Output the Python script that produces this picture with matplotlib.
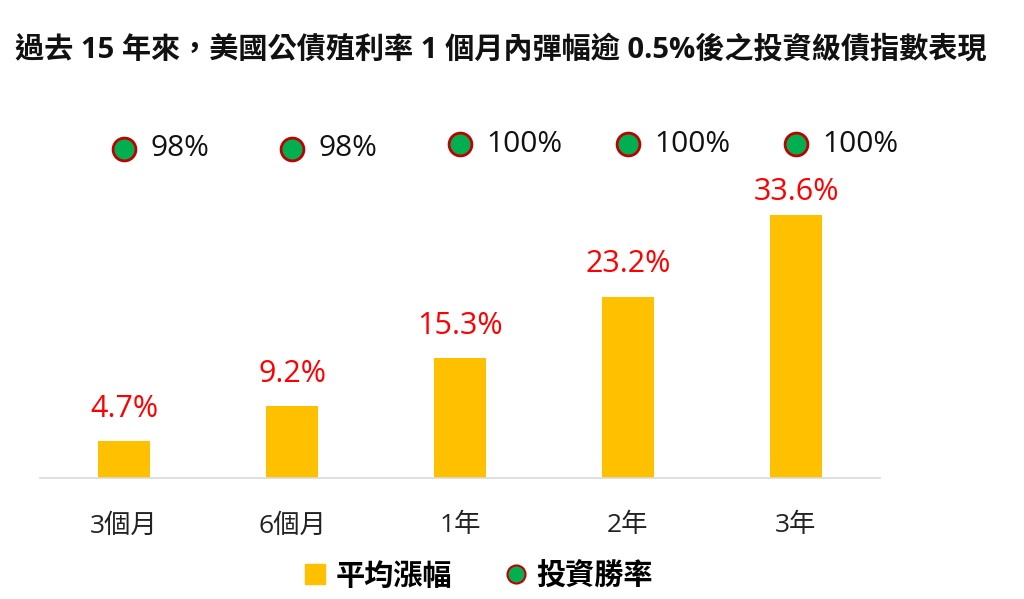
import matplotlib
matplotlib.use('Agg')
import matplotlib.pyplot as plt
from matplotlib.lines import Line2D

plt.rcParams['font.family'] = ['Open Sans', 'Noto Sans CJK TC', 'DejaVu Sans']

# Data
categories = ['3個月', '6個月', '1年', '2年', '3年']
avg_gain = [4.7, 9.2, 15.3, 23.2, 33.6]
win_rate = [98, 98, 100, 100, 100]
title = '過去 15 年來，美國公債殖利率 1 個月內彈幅逾 0.5%後之投資級債指數表現'

bar_color = '#FFC000'
dot_color = '#00B050'
dot_edge = '#C00000'

fig = plt.figure(figsize=(10.24, 5.99), dpi=100)
W, H = 1024, 599
# axes: x 40..880, y 126..478 (pixels from top)
ax = fig.add_axes([40 / W, 1 - 478 / H, 840 / W, 352 / H])

x = list(range(len(categories)))
ax.bar(x, avg_gain, width=0.31, color=bar_color, zorder=2)
ax.set_xlim(-0.5, len(categories) - 0.5)
ax.set_ylim(0, 45)

# data labels sit above the bars, but are kept below the top of the plot area
label_cap = 35.5
for xi, v in zip(x, avg_gain):
    ax.text(xi, min(v + 3.1, label_cap), f'{v}%', ha='center', va='baseline',
            color='#FF0000', fontsize=22)

ax.set_xticks(x)
ax.set_xticklabels(categories, fontsize=19, color='#222222')
ax.tick_params(axis='x', length=0, pad=25.5)
ax.set_yticks([])
for s in ['top', 'right', 'left']:
    ax.spines[s].set_visible(False)
ax.spines['bottom'].set_color('#D9D9D9')
ax.spines['bottom'].set_linewidth(1.2)

# secondary axis for win rate
ax2 = ax.twinx()
ax2.set_ylim(-33.6, 107.2)
ax2.scatter(x, win_rate, s=270, color=dot_color, edgecolors=dot_edge,
            linewidths=2, zorder=3)
for xi, v in zip(x, win_rate):
    ax2.annotate(f'{v}%', (xi, v), xytext=(19, 0), textcoords='offset points',
                 ha='left', va='center', color='#111111', fontsize=21.5)
ax2.set_yticks([])
for s in ax2.spines.values():
    s.set_visible(False)

fig.text(15 / W, 1 - 50 / H, title, fontsize=21, fontweight='bold',
         ha='left', va='center', color='#111111')

handles = [
    Line2D([], [], marker='s', linestyle='none', markersize=14.5,
           markerfacecolor=bar_color, markeredgecolor=bar_color),
    Line2D([], [], marker='o', linestyle='none', markersize=13,
           markerfacecolor=dot_color, markeredgecolor=dot_edge, markeredgewidth=1.5),
]
fig.legend(handles, ['平均漲幅', '投資勝率'], loc='center', bbox_to_anchor=(475 / W, 1 - 577 / H),
           ncol=2, frameon=False, prop={'weight': 'bold', 'size': 21},
           handletextpad=0.1, columnspacing=1.6, handlelength=1.2)

fig.savefig('out.png', dpi=100)
